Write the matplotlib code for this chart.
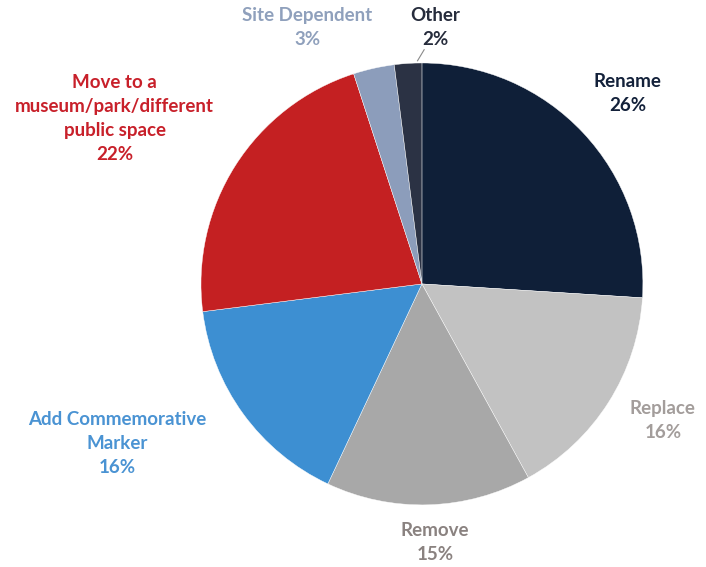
import matplotlib.pyplot as plt

labels = ["Rename", "Replace", "Remove", "Add Commemorative\nMarker",
          "Move to a\nmuseum/park/different\npublic space", "Site Dependent", "Other"]
shares = [26, 16, 15, 16, 22, 3, 2]
wedge_colors = ["#0f1f38", "#c2c2c2", "#a8a8a8", "#3d8fd2", "#c42022", "#8c9dbb", "#2b3244"]
text_colors = ["#13213a", "#a39d9b", "#8a8280", "#4a93d3", "#c8202a", "#8fa0bc", "#262c3c"]
# label centres in pie units (radius = 1)
label_pos = [(0.93, 0.86), (1.09, -0.62), (0.06, -1.17), (-1.38, -0.72),
             (-1.39, 0.75), (-0.52, 1.16), (0.06, 1.16)]

plt.rcParams["font.family"] = ["Lato", "DejaVu Sans"]

fig = plt.figure(figsize=(7.06, 5.67), dpi=100)
ax = fig.add_axes([0, 0, 1, 1])
wedges, _ = ax.pie(shares, colors=wedge_colors, startangle=90, counterclock=False,
                   radius=1, center=(0, 0), wedgeprops=dict(linewidth=0.3, edgecolor="white"))

for lab, val, col, (x, y) in zip(labels, shares, text_colors, label_pos):
    ax.text(x, y, f"{lab}\n{val}%", ha="center", va="center", color=col,
            fontsize=13.5, fontweight="bold", linespacing=1.5)

# leader line for "Other"
ax.plot([-0.02, 0.01], [1.01, 1.06], color="#8a8a8a", lw=0.8)

ax.set_xlim(-1.909, 1.285)
ax.set_ylim(-1.281, 1.285)
ax.set_aspect("equal")
ax.axis("off")

fig.savefig("out.png", dpi=100)
